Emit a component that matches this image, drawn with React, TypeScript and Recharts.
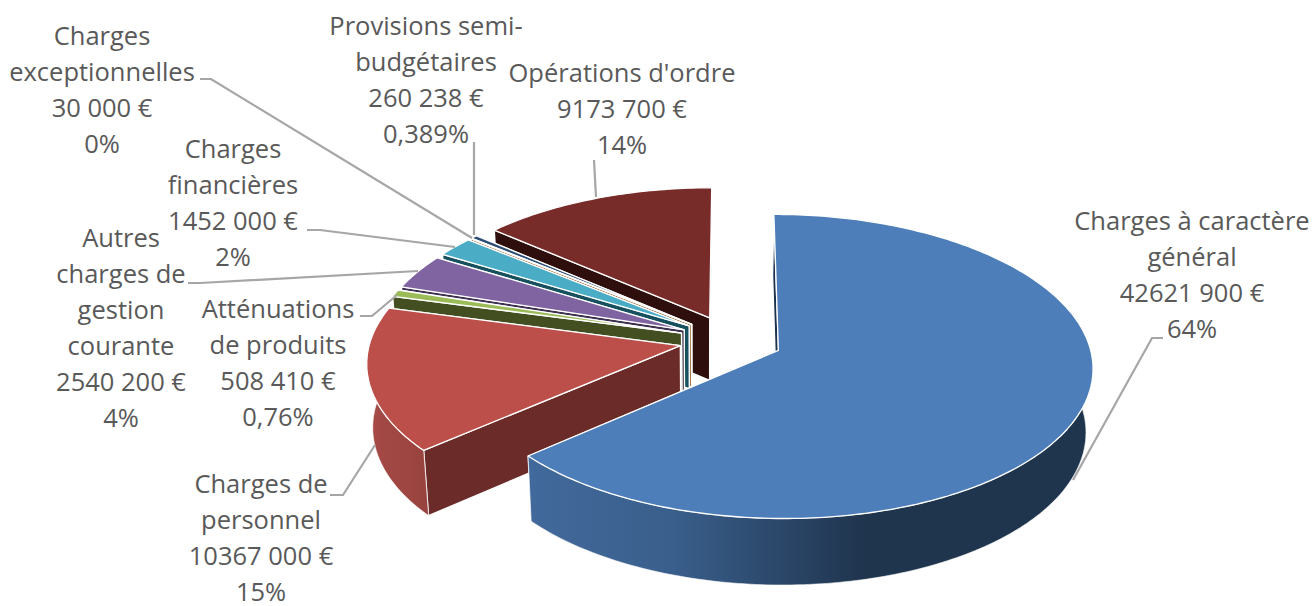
import React from 'react';
import { PieChart, Pie } from 'recharts';

const names = [
  'Charges à caractère général',
  'Charges de personnel',
  'Atténuations de produits',
  'Autres charges de gestion courante',
  'Charges financières',
  'Charges exceptionnelles',
  'Provisions semi-budgétaires',
  "Opérations d'ordre",
];
const values = [42621900, 10367000, 508410, 2540200, 1452000, 30000, 260238, 9173700];
const valueLabels = ['42621 900 €', '10367 000 €', '508 410 €', '2540 200 €', '1452 000 €', '30 000 €', '260 238 €', '9173 700 €'];
const percentLabels = ['64%', '15%', '0,76%', '4%', '2%', '0%', '0,389%', '14%'];
const nameLines = [
  ['Charges à caractère', 'général'],
  ['Charges de', 'personnel'],
  ['Atténuations', 'de produits'],
  ['Autres', 'charges de', 'gestion', 'courante'],
  ['Charges', 'financières'],
  ['Charges', 'exceptionnelles'],
  ['Provisions semi-', 'budgétaires'],
  ["Opérations d'ordre"],
];
const topColors = ['#4d7eba', '#bd4f4b', '#9bbb59', '#8064a2', '#4bacc6', '#f79646', '#2c4d75', '#772c2a'];
const wallColors = ['url(#blueWall)', 'url(#redWall)', '#434f21', '#3f3151', '#17505f', '#94581f', '#1d3555', '#2f0f0e'];
const edgeColors = ['#1d334d', '#6b2b28', '#434f21', '#3f3151', '#17505f', '#94581f', '#1d3555', '#2f0f0e'];

// label placement: centre x, first baseline, leader line
const labelX = [1192, 261, 278, 121, 233, 102, 426, 622];
const labelY = [230, 493, 318, 247, 158, 45, 35, 82];
const leaders = [
  '1163,338 1152,338 1073,480',
  '330,495 343,495 375,445',
  '360,316 372,316 397,295',
  '188,283 200,283 418,271',
  '307,230 320,230 455,247',
  '200,79 211,79 472,238',
  '474,142 474,235',
  '594,160 596,197',
];

// drawn back to front, so the list is reversed and the angles run the other way
const table = names
  .map((name, i) => ({ name, value: values[i], index: i }))
  .reverse();

// fake 3D view of the pie
const K = 0.105;
const FLAT = 0.478;
const EXPLODE = 0.167;
const DEPTH = 63;
const SHRINK_X = 0.982;
const SHRINK_Y = 0.975;
const VANISH_X = 700;

const rad = (d: number) => (d * Math.PI) / 180;

function Slice3D(props: any) {
  const { cx, cy, outerRadius: R, startAngle, endAngle, payload } = props;
  const i = payload.index;
  const mid = (startAngle + endAngle) / 2;
  const ox = EXPLODE * Math.cos(rad(mid));
  const oy = -EXPLODE * Math.sin(rad(mid));

  const pt = (gx: number, gy: number, low: boolean) => {
    const X = ox + gx;
    const Y = oy + gy;
    const s = 1 / (1 - K * Y);
    let x = cx + X * R * s;
    let y = cy + Y * R * FLAT * s;
    if (low) {
      x = VANISH_X + (x - VANISH_X) * SHRINK_X;
      y = cy + (y - cy) * SHRINK_Y + DEPTH * s;
    }
    return `${x.toFixed(1)},${y.toFixed(1)}`;
  };
  const rim = (a: number, low: boolean) => pt(Math.cos(rad(a)), -Math.sin(rad(a)), low);
  const arc = (from: number, to: number, low: boolean) => {
    const out: string[] = [];
    const n = Math.max(2, Math.ceil(Math.abs(to - from)));
    for (let k = 0; k <= n; k++) out.push(rim(from + ((to - from) * k) / n, low));
    return out;
  };
  const apex = pt(0, 0, false);
  const apexLow = pt(0, 0, true);

  const sFrom = Math.max(startAngle, 175);
  const sTo = Math.min(endAngle, 365);
  const edge = (a: number) => [apex, rim(a, false), rim(a, true), apexLow].join(' ');

  return (
    <g stroke="#ffffff" strokeWidth={1.3} strokeLinejoin="round">
      <polygon points={edge(startAngle)} fill={edgeColors[i]} />
      <polygon points={edge(endAngle)} fill={edgeColors[i]} />
      {sTo > sFrom && (
        <polygon
          points={[...arc(sFrom, sTo, false), ...arc(sTo, sFrom, true)].join(' ')}
          fill={wallColors[i]}
          strokeWidth={0.6}
        />
      )}
      <polygon points={[apex, ...arc(startAngle, endAngle, false)].join(' ')} fill={topColors[i]} />
    </g>
  );
}

function DataLabel(props: any) {
  const i = props.payload ? props.payload.index : table[props.index].index;
  const lines = [...nameLines[i], valueLabels[i], percentLabels[i]];
  return (
    <g>
      <polyline points={leaders[i]} fill="none" stroke="#a6a6a6" strokeWidth={2.2} />
      <text
        textAnchor="middle"
        fontFamily="'Open Sans', sans-serif"
        fontSize={25.5}
        fill="#595959"
      >
        {lines.map((line, k) => (
          <tspan key={k} x={labelX[i]} y={labelY[i] + k * 36}>
            {line}
          </tspan>
        ))}
      </text>
    </g>
  );
}

export default function App() {
  return (
    <div style={{ position: 'absolute', left: 0, top: 0, width: 1313, height: 606, background: '#ffffff' }}>
      <PieChart width={1313} height={606} margin={{ top: 0, right: 0, bottom: 0, left: 0 }}>
        <defs>
          <linearGradient id="blueWall" gradientUnits="userSpaceOnUse" x1="531" y1="0" x2="1090" y2="0">
            <stop offset="0" stopColor="#41699b" />
            <stop offset="0.25" stopColor="#3a5f8c" />
            <stop offset="0.6" stopColor="#1f344d" />
            <stop offset="1" stopColor="#1f344d" />
          </linearGradient>
          <linearGradient id="redWall" gradientUnits="userSpaceOnUse" x1="368" y1="0" x2="428" y2="0">
            <stop offset="0" stopColor="#a64a46" />
            <stop offset="1" stopColor="#98433f" />
          </linearGradient>
        </defs>
        <Pie
          data={table}
          dataKey="value"
          nameKey="name"
          cx={731}
          cy={340}
          outerRadius={310}
          startAngle={90}
          endAngle={450}
          stroke="none"
          shape={Slice3D}
          inactiveShape={Slice3D}
          label={DataLabel}
          labelLine={false}
          isAnimationActive={false}
        />
      </PieChart>
    </div>
  );
}
